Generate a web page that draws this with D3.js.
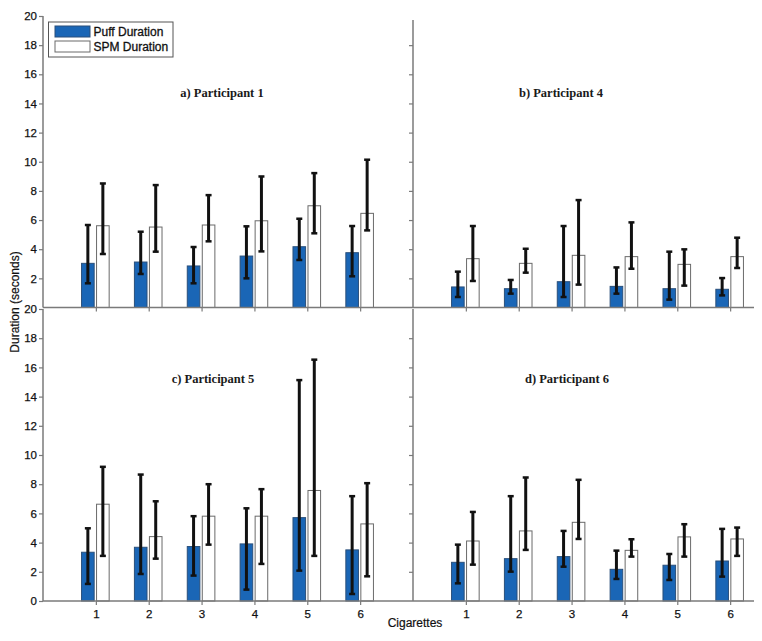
<!DOCTYPE html>
<html>
<head>
<meta charset="utf-8">
<script src="https://cdn.jsdelivr.net/npm/d3@7"></script>
<style>
  body { margin: 0; background: #fff; }
  svg { display: block; }
</style>
</head>
<body>
<svg id="chart" width="762" height="641"></svg>
<script>
// ---- Data ----
const cigarettes = [1, 2, 3, 4, 5, 6];
const yTicks = [0, 2, 4, 6, 8, 10, 12, 14, 16, 18, 20];
const seriesNames = ["Puff Duration", "SPM Duration"];
const panelTitles = ["a) Participant 1", "b) Participant 4", "c) Participant 5", "d) Participant 6"];

// Participant 1
const p1Puff     = [3.03, 3.12, 2.85, 3.53, 4.17, 3.76];
const p1PuffLow  = [1.66, 2.30, 1.66, 2.00, 3.26, 2.14];
const p1PuffHigh = [5.66, 5.20, 4.15, 5.57, 6.09, 5.59];
const p1Spm      = [5.61, 5.52, 5.66, 5.95, 6.98, 6.46];
const p1SpmLow   = [3.67, 3.83, 4.54, 3.85, 5.09, 5.29];
const p1SpmHigh  = [8.51, 8.40, 7.71, 8.99, 9.22, 10.14];

// Participant 4
const p4Puff     = [1.41, 1.29, 1.77, 1.45, 1.29, 1.25];
const p4PuffLow  = [0.72, 0.95, 0.72, 0.95, 0.54, 0.83];
const p4PuffHigh = [2.46, 1.89, 5.59, 2.75, 3.83, 2.02];
const p4Spm      = [3.35, 3.03, 3.58, 3.49, 2.96, 3.49];
const p4SpmLow   = [1.82, 2.39, 1.57, 2.66, 1.50, 2.71];
const p4SpmHigh  = [5.59, 4.03, 7.37, 5.84, 3.99, 4.79];

// Participant 5
const p5Puff     = [3.34, 3.68, 3.73, 3.91, 5.71, 3.50];
const p5PuffLow  = [1.17, 1.85, 1.74, 0.78, 2.08, 0.48];
const p5PuffHigh = [4.98, 8.66, 5.81, 6.35, 15.13, 7.18];
const p5Spm      = [6.63, 4.41, 5.81, 5.81, 7.57, 5.28];
const p5SpmLow   = [3.09, 2.90, 3.86, 2.54, 3.09, 1.69];
const p5SpmHigh  = [9.19, 6.83, 8.00, 7.66, 16.53, 8.07];

// Participant 6
const p6Puff     = [2.65, 2.90, 3.04, 2.17, 2.45, 2.74];
const p6PuffLow  = [1.21, 2.01, 2.35, 1.51, 1.44, 1.67];
const p6PuffHigh = [3.86, 7.18, 4.80, 3.45, 3.22, 4.94];
const p6Spm      = [4.11, 4.80, 5.39, 3.47, 4.39, 4.25];
const p6SpmLow   = [2.49, 3.50, 4.25, 3.04, 3.04, 3.09];
const p6SpmHigh  = [6.10, 8.46, 8.30, 4.23, 5.26, 5.03];

// ---- Layout ----
const svg = d3.select("#chart");
const BLUE = "#1a66b6";
const AXIS = "#7a7a7a";
const FONT = "Arial, 'Liberation Sans', sans-serif";

const panelW = 370;
const colX = [43, 413];
const rowY = [[307.5, 16], [601, 309]];
const rightClip = 754;

const panels = [
  { col: 0, row: 0, title: panelTitles[0], tx: 222, ty: 97,
    puff: p1Puff, puffLo: p1PuffLow, puffHi: p1PuffHigh, spm: p1Spm, spmLo: p1SpmLow, spmHi: p1SpmHigh },
  { col: 1, row: 0, title: panelTitles[1], tx: 561, ty: 97,
    puff: p4Puff, puffLo: p4PuffLow, puffHi: p4PuffHigh, spm: p4Spm, spmLo: p4SpmLow, spmHi: p4SpmHigh },
  { col: 0, row: 1, title: panelTitles[2], tx: 213, ty: 383,
    puff: p5Puff, puffLo: p5PuffLow, puffHi: p5PuffHigh, spm: p5Spm, spmLo: p5SpmLow, spmHi: p5SpmHigh },
  { col: 1, row: 1, title: panelTitles[3], tx: 567, ty: 383,
    puff: p6Puff, puffLo: p6PuffLow, puffHi: p6PuffHigh, spm: p6Spm, spmLo: p6SpmLow, spmHi: p6SpmHigh }
];

const barW = 12.6;
const offsets = [-8, 7];

svg.append("defs").append("clipPath").attr("id", "clipAll")
  .append("rect").attr("x", 0).attr("y", 0).attr("width", rightClip).attr("height", 641);

panels.forEach(p => {
  const x0 = colX[p.col];
  const x = d3.scaleLinear().domain([0, 7]).range([x0, x0 + panelW]);
  const y = d3.scaleLinear().domain([0, 20]).range(rowY[p.row]);
  const g = svg.append("g").attr("clip-path", "url(#clipAll)");

  // bars
  const series = [
    { vals: p.puff, lo: p.puffLo, hi: p.puffHi, fill: BLUE, stroke: "#2a4f7a", off: offsets[0] },
    { vals: p.spm, lo: p.spmLo, hi: p.spmHi, fill: "#ffffff", stroke: "#6a6a6a", off: offsets[1] }
  ];
  series.forEach(s => {
    g.selectAll(null).data(cigarettes).enter().append("rect")
      .attr("x", (c) => x(c) + s.off - barW / 2)
      .attr("y", (c, i) => y(s.vals[i]))
      .attr("width", barW)
      .attr("height", (c, i) => y(0) - y(s.vals[i]))
      .attr("fill", s.fill)
      .attr("stroke", s.stroke)
      .attr("stroke-width", 1);
  });
  series.forEach(s => {
    const eg = g.selectAll(null).data(cigarettes).enter().append("g");
    eg.append("line")
      .attr("x1", c => x(c) + s.off).attr("x2", c => x(c) + s.off)
      .attr("y1", (c, i) => y(s.lo[i])).attr("y2", (c, i) => y(s.hi[i]))
      .attr("stroke", "#111").attr("stroke-width", 3);
    [s.lo, s.hi].forEach(arr => {
      eg.append("line")
        .attr("x1", c => x(c) + s.off - 3).attr("x2", c => x(c) + s.off + 3)
        .attr("y1", (c, i) => y(arr[i])).attr("y2", (c, i) => y(arr[i]))
        .attr("stroke", "#111").attr("stroke-width", 2.5);
    });
  });

  // x axis
  const xAxis = d3.axisBottom(x).tickValues(cigarettes).tickSize(4).tickSizeOuter(0)
    .tickFormat(p.row === 1 ? d3.format("d") : () => "");
  const xa = g.append("g").attr("transform", `translate(0,${y(0)})`).call(xAxis);
  xa.select(".domain").remove();
  xa.selectAll(".tick line").attr("stroke", AXIS).attr("stroke-width", 1.2);
  xa.selectAll(".tick text").attr("font-family", FONT).attr("font-size", 11.5)
    .attr("fill", "#111").attr("stroke", "#111").attr("stroke-width", 0.25).attr("dy", "0.9em");
  g.append("line").attr("x1", x0).attr("x2", x0 + panelW)
    .attr("y1", y(0)).attr("y2", y(0)).attr("stroke", AXIS).attr("stroke-width", 1.5);

  // y axis
  const tv = p.row === 0 ? yTicks.filter(v => v > 0) : yTicks;
  const yAxis = d3.axisLeft(y).tickValues(p.col === 1 ? yTicks.filter(v => v > 0 && v < 20) : tv)
    .tickSize(4).tickSizeOuter(0)
    .tickFormat(p.col === 0 ? d3.format("d") : () => "");
  const ya = g.append("g").attr("transform", `translate(${x0},0)`).call(yAxis);
  ya.select(".domain").remove();
  ya.selectAll(".tick line").attr("stroke", AXIS).attr("stroke-width", 1.2);
  ya.selectAll(".tick text").attr("font-family", FONT).attr("font-size", 11.5)
    .attr("fill", "#111").attr("stroke", "#111").attr("stroke-width", 0.25).attr("x", -6);
  g.append("line").attr("x1", x0).attr("x2", x0)
    .attr("y1", p.col === 1 && p.row === 0 ? y(20) + 4 : y(20)).attr("y2", y(0))
    .attr("stroke", AXIS).attr("stroke-width", 1.5);

  // title
  svg.append("text").attr("x", p.tx).attr("y", p.ty).attr("text-anchor", "middle")
    .attr("font-family", "'Times New Roman', 'Liberation Serif', serif")
    .attr("font-weight", "bold").attr("font-size", 12.5).attr("fill", "#1a1a1a")
    .text(p.title);
});

// axis titles
svg.append("text")
  .attr("transform", "translate(19,302) rotate(-90)")
  .attr("text-anchor", "middle")
  .attr("font-family", FONT).attr("font-size", 12).attr("fill", "#111")
  .attr("stroke", "#111").attr("stroke-width", 0.2)
  .text("Duration (seconds)");
svg.append("text")
  .attr("x", 415).attr("y", 627).attr("text-anchor", "middle")
  .attr("font-family", FONT).attr("font-size", 12).attr("fill", "#111")
  .attr("stroke", "#111").attr("stroke-width", 0.2)
  .text("Cigarettes");

// legend
const lg = svg.append("g");
lg.append("rect").attr("x", 48.5).attr("y", 22).attr("width", 124.5).attr("height", 35)
  .attr("fill", "#fff").attr("stroke", "#555").attr("stroke-width", 1);
const legendFills = [BLUE, "#fff"];
const legendStrokes = ["#2a4f7a", "#6a6a6a"];
seriesNames.forEach((name, i) => {
  lg.append("rect").attr("x", 55).attr("y", 26 + i * 15).attr("width", 35).attr("height", 11)
    .attr("fill", legendFills[i]).attr("stroke", legendStrokes[i]).attr("stroke-width", 1);
  lg.append("text").attr("x", 93.5).attr("y", 35.5 + i * 15)
    .attr("font-family", FONT).attr("font-size", 12).attr("fill", "#111")
    .attr("stroke", "#111").attr("stroke-width", 0.3)
    .text(name);
});
</script>
</body>
</html>
